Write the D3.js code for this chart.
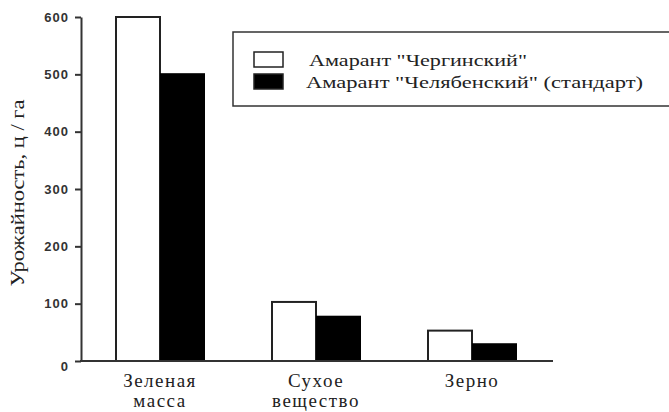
<!DOCTYPE html>
<html>
<head>
<meta charset="utf-8">
<script src="https://cdn.jsdelivr.net/npm/d3@7"></script>
<style>
  body { margin: 0; background: #fff; }
  svg { display: block; }
</style>
</head>
<body>
<div id="chart"></div>
<script>
'use strict';

// categories and series
var categories = ['Зеленая масса', 'Сухое вещество', 'Зерно'];
var series = ['Амарант "Чергинский"', 'Амарант "Челябенский" (стандарт)'];
var chergValues = [600, 103, 53];
var chelValues = [502, 79, 31];
var yTicks = [0, 100, 200, 300, 400, 500, 600];

var stage = { width: 669, height: 412 };

var svg = d3.select('#chart')
    .append('svg')
    .attr('width', stage.width)
    .attr('height', stage.height)
    .attr('xmlns', 'http://www.w3.org/2000/svg');

var y = d3.scaleLinear().domain([0, 600]).range([361, 17]);

var x0 = d3.scaleBand().domain(categories).range([82, 550]).padding(0);
var groupW = 90;
var x1 = d3.scaleBand().domain(series)
    .range([x0.bandwidth() / 2 - groupW / 2, x0.bandwidth() / 2 + groupW / 2]);

var rows = categories.map(function(c, i) {
    return { cat: c, vals: [chergValues[i], chelValues[i]] };
});

// bars
var groups = svg.append('g').attr('class', 'bars')
    .selectAll('g').data(rows).enter()
    .append('g')
    .attr('transform', function(d) { return 'translate(' + x0(d.cat) + ',0)'; });

groups.selectAll('rect')
    .data(function(d) {
        return d.vals.map(function(v, j) { return { s: series[j], v: v, j: j }; });
    }).enter()
    .append('rect')
    .attr('x', function(d) { return x1(d.s) + (d.j === 0 ? 1 : 0); })
    .attr('y', function(d) { return y(d.v); })
    .attr('width', function(d) { return x1.bandwidth() - (d.j === 0 ? 1 : 0); })
    .attr('height', function(d) { return y(0) - y(d.v); })
    .attr('fill', function(d) { return d.j === 0 ? '#fff' : '#000'; })
    .attr('stroke', function(d) { return d.j === 0 ? '#222' : 'none'; })
    .attr('stroke-width', 2);

// y axis
var yAxis = svg.append('g')
    .attr('transform', 'translate(81,0)')
    .call(d3.axisLeft(y).tickValues(yTicks).tickSize(6).tickSizeOuter(0).tickPadding(6));
yAxis.select('.domain').attr('stroke', '#333').attr('stroke-width', 2);
yAxis.selectAll('.tick line').attr('stroke', '#333').attr('stroke-width', 2);
yAxis.selectAll('.tick text')
    .attr('font-family', 'Liberation Sans, Arial, sans-serif')
    .attr('font-size', 13)
    .attr('font-weight', 'bold')
    .attr('letter-spacing', 1)
    .attr('fill', '#333')
    .attr('dy', function(d) { return d === 0 ? '0.75em' : '0.32em'; });

// x axis baseline
svg.append('line')
    .attr('x1', 80).attr('x2', 553)
    .attr('y1', y(0)).attr('y2', y(0))
    .attr('stroke', '#333').attr('stroke-width', 2);

// category labels
var catLabels = svg.append('g').selectAll('text').data(categories).enter()
    .append('text')
    .attr('x', function(d) { return x0(d) + x0.bandwidth() / 2; })
    .attr('y', 387)
    .attr('text-anchor', 'middle')
    .attr('font-family', 'Liberation Serif, Times New Roman, serif')
    .attr('font-size', 19)
    .attr('letter-spacing', 1.5)
    .attr('fill', '#222');
catLabels.each(function(d) {
    var parts = d.split(' ');
    var t = d3.select(this);
    parts.forEach(function(p, i) {
        t.append('tspan')
            .attr('x', t.attr('x'))
            .attr('dy', i === 0 ? 0 : 20)
            .text(p);
    });
});

// y title
svg.append('text')
    .attr('transform', 'translate(24,193) rotate(-90)')
    .attr('text-anchor', 'middle')
    .attr('font-family', 'Liberation Serif, Times New Roman, serif')
    .attr('font-size', 19)
    .attr('fill', '#222')
    .attr('textLength', 187)
    .attr('lengthAdjust', 'spacingAndGlyphs')
    .text('Урожайность, ц / га');

// legend
var legend = svg.append('g').attr('class', 'legend');
legend.append('rect')
    .attr('x', 233).attr('y', 32)
    .attr('width', 460).attr('height', 74)
    .attr('fill', '#fff').attr('stroke', '#333').attr('stroke-width', 1.5);

var legendRows = legend.selectAll('g.item').data(series).enter()
    .append('g').attr('class', 'item')
    .attr('transform', function(d, i) { return 'translate(0,' + (i * 22) + ')'; });

legendRows.append('rect')
    .attr('x', 254).attr('y', 52)
    .attr('width', 29).attr('height', 15)
    .attr('fill', function(d, i) { return i === 0 ? '#fff' : '#000'; })
    .attr('stroke', '#222').attr('stroke-width', 1.5);

legendRows.append('text')
    .attr('x', function(d, i) { return i === 0 ? 309 : 306; })
    .attr('y', 66)
    .attr('font-family', 'Liberation Serif, Times New Roman, serif')
    .attr('font-size', 17)
    .attr('fill', '#222')
    .attr('textLength', function(d, i) { return i === 0 ? 218 : 337; })
    .attr('lengthAdjust', 'spacingAndGlyphs')
    .text(function(d) { return d; });
</script>
</body>
</html>
